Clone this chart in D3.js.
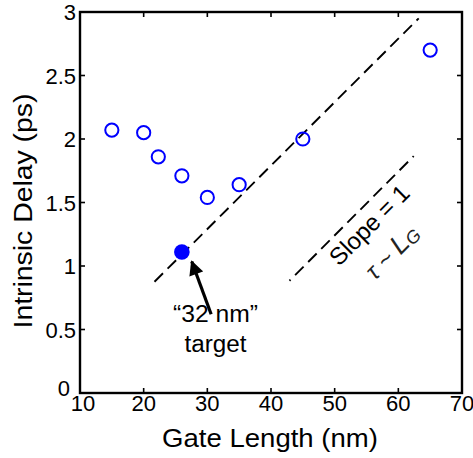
<!DOCTYPE html>
<html><head><meta charset="utf-8">
<script src="https://cdn.jsdelivr.net/npm/d3@7"></script>
<style>body{margin:0;background:#fff}svg{display:block}text{font-family:"Liberation Sans",Arial,Helvetica,sans-serif}</style>
</head><body>
<svg id="c" width="473" height="458"></svg>
<script>
const gateLength = [15, 20, 22.3, 26, 30, 35, 45, 65];
const delay = [2.07, 2.05, 1.86, 1.71, 1.54, 1.64, 2.0, 2.7];
const targetPoint = [{x: 26, y: 1.11}];
const fitLine = [{x: 21.7, y: 0.876}, {x: 63.2, y: 2.95}];
const slopeLine = [{x: 42.9, y: 0.884}, {x: 63.1, y: 1.90}];
const xTicks = [10, 20, 30, 40, 50, 60, 70];
const yTicks = [0, 0.5, 1, 1.5, 2, 2.5, 3];
const arrowPts = {from: {x: 30.6, y: 0.62}, to: {x: 27.55, y: 1.035}};

const svg = d3.select("#c");
const L = 80, R = 462, T = 12, B = 393;
const x = d3.scaleLinear().domain([10, 70]).range([L, R]);
const y = d3.scaleLinear().domain([0, 3]).range([B, T]);

svg.append("defs").append("marker").attr("id", "ah")
  .attr("viewBox", "0 0 10 10").attr("refX", 9).attr("refY", 5)
  .attr("markerWidth", 5).attr("markerHeight", 4.6).attr("markerUnits", "strokeWidth")
  .attr("orient", "auto")
  .append("path").attr("d", "M0,0 L10,5 L0,10 Z").attr("fill", "#000");

const line = d3.line().x(d => x(d.x)).y(d => y(d.y));
svg.append("path").datum(fitLine).attr("d", line).attr("fill", "none")
  .attr("stroke", "#000").attr("stroke-width", 1.9).attr("stroke-dasharray", "12,6.5");
svg.append("path").datum(slopeLine).attr("d", line).attr("fill", "none")
  .attr("stroke", "#000").attr("stroke-width", 1.9).attr("stroke-dasharray", "1.5,6.5,12,6.5,12,6.5,12,6.5,12,6.5,12,6.5,12,6.5,12,6.5,12,6.5,12,6.5");

svg.append("g").selectAll("circle").data(gateLength).join("circle")
  .attr("cx", d => x(d)).attr("cy", (d, i) => y(delay[i])).attr("r", 6.6)
  .attr("fill", "none").attr("stroke", "#0000ff").attr("stroke-width", 2);
svg.append("g").selectAll("circle").data(targetPoint).join("circle")
  .attr("cx", d => x(d.x)).attr("cy", d => y(d.y)).attr("r", 7.8)
  .attr("fill", "#0000ff");

svg.append("line")
  .attr("x1", x(arrowPts.from.x)).attr("y1", y(arrowPts.from.y))
  .attr("x2", x(arrowPts.to.x)).attr("y2", y(arrowPts.to.y))
  .attr("stroke", "#000").attr("stroke-width", 3.2).attr("marker-end", "url(#ah)");

const g = svg.append("g");
g.append("rect").attr("x", L).attr("y", T).attr("width", R - L).attr("height", B - T)
  .attr("fill", "none").attr("stroke", "#000").attr("stroke-width", 2.4);
const tl = 5;
xTicks.slice(1, -1).forEach(t => {
  g.append("line").attr("x1", x(t)).attr("x2", x(t)).attr("y1", B).attr("y2", B - tl).attr("stroke", "#000").attr("stroke-width", 1.6);
  g.append("line").attr("x1", x(t)).attr("x2", x(t)).attr("y1", T).attr("y2", T + tl).attr("stroke", "#000").attr("stroke-width", 1.6);
});
yTicks.slice(1, -1).forEach(t => {
  g.append("line").attr("y1", y(t)).attr("y2", y(t)).attr("x1", L).attr("x2", L + tl).attr("stroke", "#000").attr("stroke-width", 1.6);
  g.append("line").attr("y1", y(t)).attr("y2", y(t)).attr("x1", R).attr("x2", R - tl).attr("stroke", "#000").attr("stroke-width", 1.6);
});
g.selectAll(".xt").data(xTicks).join("text").attr("class", "xt")
  .attr("x", (d, i) => x(d) + (i === 0 ? 3 : 0)).attr("y", 411).attr("text-anchor", "middle")
  .attr("font-size", 22).text(d => d);
g.selectAll(".yt").data(yTicks).join("text").attr("class", "yt")
  .attr("x", (d, i) => i === 0 ? 70 : 76).attr("y", (d, i) => y(d) + 8 - (i === 0 ? 5 : 0)).attr("text-anchor", "end")
  .attr("font-size", 22).text(d => d);

svg.append("text").attr("x", 270).attr("y", 447).attr("text-anchor", "middle")
  .attr("font-size", 26).attr("textLength", 216).attr("lengthAdjust", "spacingAndGlyphs").text("Gate Length (nm)");
svg.append("text").attr("transform", "translate(31.5,211) rotate(-90)").attr("text-anchor", "middle")
  .attr("font-size", 26).attr("textLength", 235).attr("lengthAdjust", "spacingAndGlyphs").text("Intrinsic Delay (ps)");

svg.append("text").attr("x", 215.5).attr("y", 322).attr("text-anchor", "middle")
  .attr("font-size", 23).attr("textLength", 85).attr("lengthAdjust", "spacingAndGlyphs").text("\u201c32 nm\u201d");
svg.append("text").attr("x", 215.5).attr("y", 352).attr("text-anchor", "middle")
  .attr("font-size", 23).attr("textLength", 62).attr("lengthAdjust", "spacingAndGlyphs").text("target");

svg.append("text").attr("transform", "translate(375,231) rotate(-45)").attr("text-anchor", "middle")
  .attr("font-size", 24).text("Slope = 1");
const tau = svg.append("text").attr("transform", "translate(398,258) rotate(-45)").attr("text-anchor", "middle")
  .attr("font-family", "'Liberation Serif','DejaVu Serif',serif").attr("font-style", "italic")
  .attr("font-size", 24).attr("fill", "#222");
tau.append("tspan").text("\u03c4 ~ ");
tau.append("tspan").attr("font-size", 27).text("L");
tau.append("tspan").attr("font-size", 18).attr("dy", 2).text("G");
</script>
</body></html>
